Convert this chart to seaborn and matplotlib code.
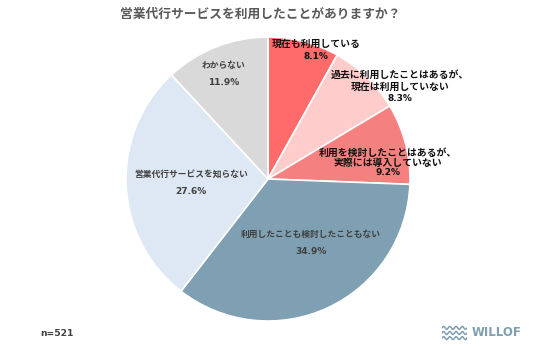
import matplotlib
matplotlib.use("Agg")
import matplotlib.pyplot as plt
import numpy as np
import seaborn as sns

# Survey answers (n=521), clockwise from 12 o'clock
categories = [
    "現在も利用している",
    "過去に利用したことはあるが、\n現在は利用していない",
    "利用を検討したことはあるが、\n実際には導入していない",
    "利用したことも検討したこともない",
    "営業代行サービスを知らない",
    "わからない",
]
shares = [8.1, 8.3, 9.2, 34.9, 27.6, 11.9]
title = "営業代行サービスを利用したことがありますか？"
sample_note = "n=521"
brand = "WILLOF"

sns.set_theme(style="white")
plt.rcParams["font.family"] = ["Noto Sans CJK JP", "DejaVu Sans"]

colors = sns.color_palette(["#FF6B6B", "#FFCCCC", "#F58080", "#7FA0B2", "#DEE8F4", "#D9D9D9"])

# label anchor (x, y) in pie units, colour, text size and line pitch (px) per slice
label_layout = [
    ((0.34, 0.905), "#111111", 7.1, 13),
    ((0.93, 0.65), "#111111", 7.1, 12),
    ((0.845, 0.113), "#111111", 7.1, 10),
    ((0.30, -0.45), "#404040", 6.3, 18),
    ((-0.54, -0.025), "#404040", 6.3, 17),
    ((-0.31, 0.736), "#404040", 6.3, 17),
]

W, H = 536, 348
cx, cy, r = 268, 179, 142
fig = plt.figure(figsize=(W / 100, H / 100), dpi=100)
fig.patch.set_facecolor("white")
ax = fig.add_axes([(cx - r) / W, (H - cy - r) / H, 2 * r / W, 2 * r / H])

ax.pie(
    shares,
    colors=colors,
    startangle=90,
    counterclock=False,
    radius=1,
    wedgeprops=dict(edgecolor="white", linewidth=1.2),
)
ax.set_xlim(-1, 1)
ax.set_ylim(-1, 1)
ax.set_aspect("equal")
ax.axis("off")

px2pt = 72 / 100
for name, val, (pos, col, fs, pitch) in zip(categories, shares, label_layout):
    lines = name.split("\n") + [f"{val:.1f}%"]
    n = len(lines)
    for i, line in enumerate(lines):
        off = ((n - 1) / 2 - i) * pitch * px2pt
        is_pct = i == n - 1
        ax.annotate(line, xy=pos, xytext=(0, off), textcoords="offset points",
                    ha="center", va="center", color=col, fontweight="bold",
                    fontsize=6.5 if is_pct else fs,
                    family="DejaVu Sans" if is_pct else None,
                    annotation_clip=False)

fig.text(260 / W, 1 - 14 / H, title, ha="center", va="center",
         fontsize=9.2, fontweight="bold", color="#595959")
fig.text(40 / W, 1 - 333 / H, sample_note, ha="left", va="center",
         fontsize=6.6, fontweight="bold", color="#404040", family="DejaVu Sans")

# brand mark: three waves and the wordmark
brand_col = "#7F9FB0"
wave_ax = fig.add_axes([442 / W, 1 - 341 / H, 25 / W, 16 / H])
t = np.linspace(0, 1, 200)
for yy in [0.82, 0.5, 0.18]:
    wave_ax.plot(t, yy + 0.09 * np.sin(t * 2 * np.pi * 4), color=brand_col, lw=1.1)
wave_ax.set_xlim(0, 1)
wave_ax.set_ylim(0, 1)
wave_ax.axis("off")
fig.text(472 / W, 1 - 333 / H, brand, ha="left", va="center",
         fontsize=8.4, fontweight="bold", color=brand_col, family="DejaVu Sans")

fig.savefig("out.png", dpi=100)
